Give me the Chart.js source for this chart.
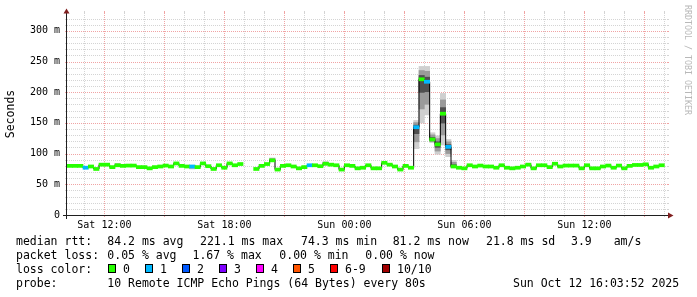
<!DOCTYPE html>
<html>
<head>
<meta charset="utf-8">
<script src="https://cdn.jsdelivr.net/npm/chart.js@4/dist/chart.umd.min.js"></script>
<style>
  html, body { margin: 0; background: #fff; }
  canvas { display: block; }
</style>
</head>
<body>
<canvas id="smokeChart" width="697" height="297"></canvas>
<script>
// time axis: hours counted from Sat 00:00
const startHour = 10.13;
const spanHours = 30;
const stepMinutes = 16;

// median rtt per sample (ms), null = no data
const median = [
  80, 80, 80, 77, 79, 75, 82, 82, 78, 81,
  80, 80.5, 80.5, 78, 78, 76, 78, 79, 80.5, 79,
  84, 80, 79, 79, 78, 84, 79.5, 75, 81, 77,
  84, 81, 83, null, null, 75, 80, 83, 89, 74,
  80, 81, 79, 76, 78, 81, 81, 79.5, 83.5, 82,
  81, 74, 81, 80, 76, 77, 81, 76, 76, 85,
  82, 79, 74, 80, 77, 143, 221, 217, 123, 115,
  165, 111, 79, 77, 76, 81, 79, 80.5, 79, 79,
  77, 81, 77, 76, 77, 79, 82, 76, 81, 81,
  78, 83.5, 79, 80.5, 80.5, 80.5, 76, 81, 76, 76,
  79, 80.5, 77, 80.5, 76, 80, 81.5, 81.5, 82.5, 77,
  79, 81
];

// samples with lost pings
const lossIndex = [3, 23, 45, 65, 67, 71];
const lossPings = [1, 1, 1, 1, 1, 1];

// visible smoke (ping spread) around some samples
const smokeIndex = [9, 23, 38, 48, 65, 66, 67, 68, 69, 70, 71, 72];
const smokeLo = [79, 75, 87, 81, 108, 150, 163, 118, 99, 114, 95, 77];
const smokeHi = [84, 81, 93, 87, 154, 242, 242, 134, 129, 198, 123, 89];

const xTickHours = [12, 18, 24, 30, 36];
const xTickLabels = ['Sat 12:00', 'Sat 18:00', 'Sun 00:00', 'Sun 06:00', 'Sun 12:00'];
const yTickValues = [0, 50, 100, 150, 200, 250, 300];
const yTickLabels = ['0', '50 m', '100 m', '150 m', '200 m', '250 m', '300 m'];

const lossLabels = ['0', '1', '2', '3', '4', '5', '6-9', '10/10'];
const lossColors = ['#26ff00', '#00b8ff', '#0059ff', '#7e00ff', '#ff00ff', '#ff5500', '#ff0000', '#a10000'];

const MONO = '"DejaVu Sans Mono", monospace';
const GRID_MINOR = '#d4d4d4';
const GRID_MAJOR = '#f0a4a4';

const centers = median.map((_, i) => startHour + (i + 0.5) * stepMinutes / 60);

function lossBucket(i) {
  const k = lossIndex.indexOf(i);
  if (k < 0) return 0;
  const n = lossPings[k];
  if (n >= 10) return 7;
  if (n >= 6) return 6;
  return n;
}

function smokeLayer(frac, color, order) {
  return {
    type: 'bar',
    grouped: false,
    order: order,
    backgroundColor: color,
    barPercentage: 1,
    categoryPercentage: 1,
    data: smokeIndex.map((idx, k) => {
      const m = median[idx];
      return { x: centers[idx], y: [m - frac * (m - smokeLo[k]), m + frac * (smokeHi[k] - m)] };
    })
  };
}

// rrdtool style dotted grid (one pixel on, one off), drawn under the data
const gridPlugin = {
  id: 'rrdGrid',
  beforeDatasetsDraw(chart) {
    const { ctx, chartArea: a, scales } = chart;
    const xs = scales.x, ys = scales.y;
    const left = Math.round(a.left), right = Math.round(a.right);
    const top = Math.round(a.top), bottom = Math.round(a.bottom);
    ctx.save();
    [false, true].forEach(major => {
      ctx.fillStyle = major ? GRID_MAJOR : GRID_MINOR;
      ys.ticks.forEach(t => {
        if (t.value === 0 || (t.value % 50 === 0) !== major) return;
        const y = Math.round(ys.getPixelForValue(t.value));
        ctx.fillRect(left - 2, y, 2, 1);
        ctx.fillRect(right, y, 2, 1);
        for (let x = left; x < right; x += 2) ctx.fillRect(x, y, 1, 1);
      });
      xs.ticks.forEach(t => {
        if ((t.value % 3 === 0) !== major) return;
        const x = Math.round(xs.getPixelForValue(t.value));
        ctx.fillRect(x, top - 2, 1, 2);
        ctx.fillRect(x, bottom, 1, 2);
        for (let y = top; y < bottom; y += 2) ctx.fillRect(x, y, 1, 1);
      });
    });
    ctx.restore();
  }
};

const overlay = {
  id: 'overlay',
  afterDraw(chart) {
    const { ctx, chartArea: a } = chart;
    ctx.save();

    // axes
    ctx.fillStyle = '#1f1f1f';
    ctx.fillRect(a.left - 4, a.bottom, a.right - a.left + 5, 1);
    ctx.fillRect(a.left - 1, a.top, 1, a.bottom - a.top + 4);

    // arrows
    ctx.fillStyle = '#801f1f';
    ctx.beginPath();
    ctx.moveTo(a.left - 3.5, a.top + 0.5);
    ctx.lineTo(a.left + 2.5, a.top + 0.5);
    ctx.lineTo(a.left - 0.5, a.top - 4.5);
    ctx.closePath();
    ctx.fill();
    ctx.beginPath();
    ctx.moveTo(a.right + 1, a.bottom - 2.5);
    ctx.lineTo(a.right + 1, a.bottom + 3.5);
    ctx.lineTo(a.right + 6.5, a.bottom + 0.5);
    ctx.closePath();
    ctx.fill();

    // y axis title
    ctx.fillStyle = '#000';
    ctx.font = '11.5px ' + MONO;
    ctx.save();
    ctx.translate(11, (a.top + a.bottom) / 2);
    ctx.rotate(-Math.PI / 2);
    ctx.textAlign = 'center';
    ctx.textBaseline = 'middle';
    ctx.fillText('Seconds', 0, 0);
    ctx.restore();

    // watermark
    ctx.save();
    ctx.fillStyle = '#b8b8b8';
    ctx.font = '8.3px ' + MONO;
    ctx.translate(687, 5);
    ctx.rotate(Math.PI / 2);
    ctx.textAlign = 'left';
    ctx.textBaseline = 'middle';
    ctx.fillText('RRDTOOL / TOBI OETIKER', 0, 0);
    ctx.restore();

    // legend
    ctx.fillStyle = '#000';
    ctx.font = '11.5px ' + MONO;
    ctx.textAlign = 'left';
    ctx.textBaseline = 'alphabetic';
    const put = (s, x, y) => ctx.fillText(s, x, y);

    put('median rtt:', 16, 244.5);
    put('84.2 ms avg', 107.3, 244.5);
    put('221.1 ms max', 200, 244.5);
    put('74.3 ms min', 301, 244.5);
    put('81.2 ms now', 392.7, 244.5);
    put('21.8 ms sd', 486, 244.5);
    put('3.9', 571, 244.5);
    put('am/s', 613.7, 244.5);

    put('packet loss:', 16, 258.5);
    put('0.05 % avg', 107.3, 258.5);
    put('1.67 % max', 192.5, 258.5);
    put('0.00 % min', 279.3, 258.5);
    put('0.00 % now', 365.3, 258.5);

    put('loss color:', 16, 272.5);
    const boxX = [108.5, 145.5, 182.5, 219.5, 256.5, 293.5, 330.5, 382.5];
    ctx.lineWidth = 1;
    lossLabels.forEach((lab, k) => {
      ctx.fillStyle = lossColors[k];
      ctx.fillRect(boxX[k], 264.5, 7, 8);
      ctx.strokeStyle = '#000';
      ctx.strokeRect(boxX[k], 264.5, 7, 8);
      ctx.fillStyle = '#000';
      put(lab, boxX[k] + 14.5, 272.5);
    });

    put('probe:', 16, 286.5);
    put('10 Remote ICMP Echo Pings (64 Bytes) every 80s', 107.3, 286.5);
    put('Sun Oct 12 16:03:52 2025', 513, 286.5);

    ctx.restore();
  }
};

new Chart(document.getElementById('smokeChart'), {
  type: 'bar',
  data: {
    datasets: [
      {
        type: 'bar',
        grouped: false,
        order: 0,
        barPercentage: 1,
        categoryPercentage: 1,
        backgroundColor: ctx => lossColors[lossBucket(ctx.dataIndex)],
        data: median.map((m, i) => ({ x: centers[i], y: m == null ? null : [m - 2.5, m + 2.5] }))
      },
      {
        type: 'line',
        order: 1,
        stepped: 'middle',
        borderColor: '#000',
        borderWidth: 1,
        pointRadius: 0,
        fill: false,
        data: median.map((m, i) => ({ x: centers[i], y: m }))
      },
      smokeLayer(0.3, '#4f4f4f', 2),
      smokeLayer(0.68, '#9a9a9a', 3),
      smokeLayer(1, '#cfcfcf', 4)
    ]
  },
  options: {
    responsive: false,
    devicePixelRatio: 1,
    animation: false,
    layout: { padding: { top: 13, right: 30, left: 0, bottom: 0 } },
    plugins: { legend: { display: false }, tooltip: { enabled: false } },
    scales: {
      x: {
        type: 'linear',
        offset: false,
        min: startHour,
        max: startHour + spanHours,
        afterBuildTicks: scale => {
          const t = [];
          for (let h = Math.ceil(startHour); h <= startHour + spanHours; h++) t.push({ value: h });
          scale.ticks = t;
        },
        afterFit: scale => { scale.height = 82; },
        grid: { display: false, offset: false, drawTicks: false },
        border: { display: false },
        ticks: {
          autoSkip: false,
          maxRotation: 0,
          minRotation: 0,
          padding: 4,
          color: '#000',
          font: { family: MONO, size: 10 },
          callback: v => {
            const k = xTickHours.indexOf(v);
            return k >= 0 ? xTickLabels[k] : '';
          }
        }
      },
      y: {
        type: 'linear',
        min: 0,
        max: 329,
        afterBuildTicks: scale => {
          const t = [];
          for (let v = 0; v <= 320; v += 10) t.push({ value: v });
          scale.ticks = t;
        },
        afterFit: scale => { scale.width = 67; },
        grid: { display: false, drawTicks: false },
        border: { display: false },
        ticks: {
          autoSkip: false,
          padding: 7,
          color: '#000',
          font: { family: MONO, size: 10 },
          callback: v => {
            const k = yTickValues.indexOf(v);
            return k >= 0 ? yTickLabels[k] : '';
          }
        }
      }
    }
  },
  plugins: [gridPlugin, overlay]
});
</script>
</body>
</html>
